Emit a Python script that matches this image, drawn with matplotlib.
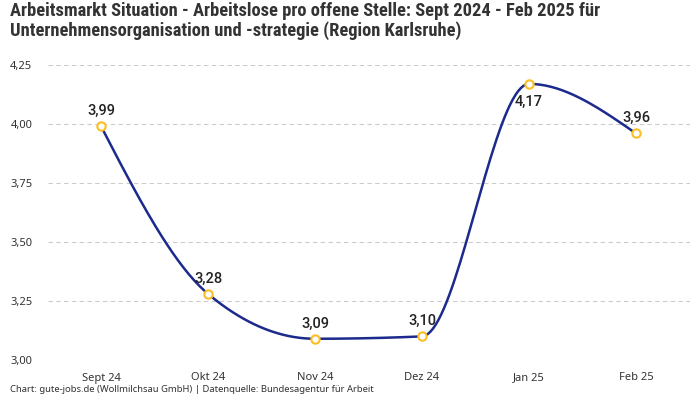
import numpy as np
import matplotlib
matplotlib.use('Agg')
import matplotlib.pyplot as plt
from matplotlib.ticker import FuncFormatter

# data
months = ['Sept 24', 'Okt 24', 'Nov 24', 'Dez 24', 'Jan 25', 'Feb 25']
values = [3.99, 3.28, 3.09, 3.10, 4.17, 3.96]
y_ticks = [3.00, 3.25, 3.50, 3.75, 4.00, 4.25]

title = ('Arbeitsmarkt Situation - Arbeitslose pro offene Stelle: Sept 2024 - Feb 2025 für\n'
         'Unternehmensorganisation und -strategie (Region Karlsruhe)')
source = 'Chart: gute-jobs.de (Wollmilchsau GmbH) | Datenquelle: Bundesagentur für Arbeit'

line_col = '#1b2a8c'
marker_col = '#fbbf24'


def monotone_x(x, y, n=40):
    # d3 curveMonotoneX style interpolation
    x = np.asarray(x, float); y = np.asarray(y, float)
    h = np.diff(x); s = np.diff(y) / h
    t = np.zeros(len(x))
    for i in range(1, len(x) - 1):
        p = (s[i-1] * h[i] + s[i] * h[i-1]) / (h[i-1] + h[i])
        t[i] = (np.sign(s[i-1]) + np.sign(s[i])) * min(abs(s[i-1]), abs(s[i]), 0.5 * abs(p))
    t[0] = (3 * s[0] - t[1]) / 2
    t[-1] = (3 * s[-1] - t[-2]) / 2
    xs, ys = [], []
    u = np.linspace(0, 1, n)
    for i in range(len(x) - 1):
        dx = h[i] / 3
        P0 = (x[i], y[i]); P1 = (x[i] + dx, y[i] + dx * t[i])
        P2 = (x[i+1] - dx, y[i+1] - dx * t[i+1]); P3 = (x[i+1], y[i+1])
        bx = (1-u)**3*P0[0] + 3*(1-u)**2*u*P1[0] + 3*(1-u)*u**2*P2[0] + u**3*P3[0]
        by = (1-u)**3*P0[1] + 3*(1-u)**2*u*P1[1] + 3*(1-u)*u**2*P2[1] + u**3*P3[1]
        xs.extend(bx); ys.extend(by)
    return np.array(xs), np.array(ys)


plt.rcParams['font.family'] = ['Noto Sans', 'DejaVu Sans']
fig = plt.figure(figsize=(7, 4), dpi=100)
ax = fig.add_axes([0.068, 0.1, 0.917, 0.7375])

xi = np.arange(len(months))
cx, cy = monotone_x(xi, values)
ax.plot(cx, cy, color=line_col, lw=1.8, zorder=3)
ax.scatter(xi, values, s=36, facecolor='white', edgecolor=marker_col, linewidth=1.5, zorder=4)

for i, v in enumerate(values):
    below = v >= 4.1
    ax.annotate(f'{v:.2f}'.replace('.', ','), (i, v), xytext=(0, -13 if below else 11),
                textcoords='offset points', ha='center', va='center',
                fontsize=10.5, fontweight='medium', family=['Roboto', 'DejaVu Sans'],
                color='#222222', zorder=5)

ax.set_xlim(-0.5, len(months) - 0.5)
ax.set_ylim(3.0, 4.25)
ax.set_xticks(xi)
ax.set_xticklabels(months)
ax.set_yticks(y_ticks)
ax.yaxis.set_major_formatter(FuncFormatter(lambda v, p: f'{v:.2f}'.replace('.', ',')))
ax.tick_params(length=0, labelsize=8, colors='#333333')
ax.tick_params(axis='x', pad=9)
ax.tick_params(axis='y', pad=11)
ax.grid(axis='y', color='#cccccc', linestyle=(0, (4, 3)), lw=0.8)
ax.set_axisbelow(True)
for sp in ax.spines.values():
    sp.set_visible(False)

fig.text(0.014, 0.995, title, ha='left', va='top', fontsize=13.3, fontweight='bold',
         family=['Roboto Condensed', 'Roboto', 'DejaVu Sans'], color='#333333', linespacing=1.1)
fig.text(0.014, 0.016, source, ha='left', va='bottom', fontsize=6.8, color='#333333')

fig.savefig('out.png', dpi=100)
